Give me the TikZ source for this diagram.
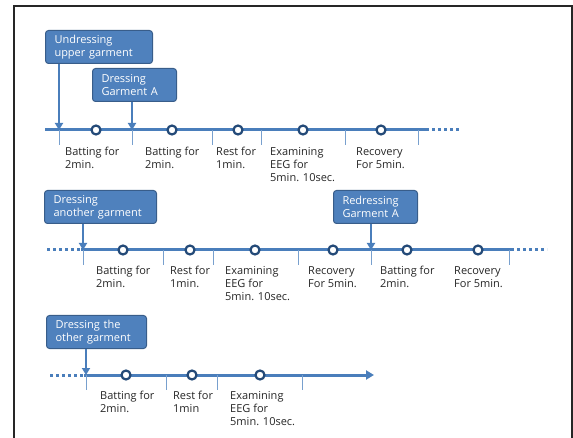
\documentclass[tikz,border=0pt]{standalone}
\usepackage{fontspec}
\setmainfont{Open Sans}
\usetikzlibrary{arrows.meta}
\definecolor{lineBlue}{RGB}{74,126,187}
\definecolor{ringBlue}{RGB}{36,74,120}
\definecolor{boxBlue}{RGB}{79,129,189}
\definecolor{boxEdge}{RGB}{56,93,138}
\definecolor{tickBlue}{RGB}{120,160,206}
\definecolor{labelGray}{RGB}{38,38,38}
\tikzset{
  timeline/.style={lineBlue, line width=3pt},
  dots/.style={lineBlue, line width=3pt, dash pattern=on 3pt off 3pt},
  tick/.style={tickBlue, line width=1pt},
  stop/.style={circle, draw=ringBlue, fill=white, line width=2.2pt, minimum size=9pt, inner sep=0pt},
  event/.style={rectangle, rounded corners=3pt, draw=boxEdge, fill=boxBlue, line width=1pt,
    text=white, align=left, inner xsep=9pt, inner ysep=4pt, minimum height=33pt,
    font=\fontsize{11}{13}\selectfont},
  event arrow/.style={lineBlue, line width=2pt, -{Triangle[width=8pt,length=7pt]}},
  label text/.style={text=labelGray, align=left, inner sep=0pt, font=\fontsize{11}{13}\selectfont},
  frame/.style={black!85, line width=2pt}
}
\newcommand{\drawTick}[3]{
  \coordinate (#1) at (#2,#3);
  \coordinate (#1Low) at (#2,#3+15);
  \draw[tick] (#1) -- (#1Low);
}
\newcommand{\drawStop}[3]{\node[stop] (#1) at (#2,#3) {};}
\newcommand{\drawLabel}[4]{\node[label text, anchor=north west] (#1) at (#2,#3) {#4};}
\newcommand{\drawEvent}[6]{
  \node[event, text width=#4, anchor=north west] (#1) at (#2,#3) {#5};
  \draw[event arrow] (#1.south -| #6) -- (#6);
}

\begin{document}
\begin{tikzpicture}[x=1pt, y=-1pt]
  \useasboundingbox (0,0) rectangle (573,438);
  \draw[frame] (14,440) -- (14,6) -- (572,6) -- (572,440);

  % First row
  \coordinate (r1Start) at (45,130);
  \coordinate (r1End) at (426,130);
  \coordinate (r1Dots) at (462,130);
  \draw[timeline] (r1Start) -- (r1End);
  \draw[dots] (r1End) -- (r1Dots);
  \drawTick{t11}{59}{130}
  \drawTick{t12}{132}{130}
  \drawTick{t13}{212}{130}
  \drawTick{t14}{261}{130}
  \drawTick{t15}{345}{130}
  \drawTick{t16}{418}{130}
  \drawStop{s11}{96}{130}
  \drawStop{s12}{172}{130}
  \drawStop{s13}{238}{130}
  \drawStop{s14}{303}{130}
  \drawStop{s15}{381}{130}
  \drawLabel{l11}{65}{147}{Batting for\\2min.}
  \drawLabel{l12}{145}{147}{Batting for\\2min.}
  \drawLabel{l13}{216}{147}{Rest for\\1min.}
  \drawLabel{l14}{270}{147}{Examining\\EEG for\\5min. 10sec.}
  \drawLabel{l15}{356}{147}{Recovery\\For 5min.}
  \drawEvent{e11}{45}{30}{89pt}{Undressing\\upper garment}{t11}
  \drawEvent{e12}{92}{68}{66pt}{Dressing\\Garment A}{t12}

  % Second row
  \coordinate (r2Dots) at (47,250);
  \coordinate (r2Start) at (81,250);
  \coordinate (r2End) at (511,250);
  \coordinate (r2More) at (547,250);
  \draw[dots] (r2Dots) -- (r2Start);
  \draw[timeline] (r2Start) -- (r2End);
  \draw[dots] (r2End) -- (r2More);
  \drawTick{t21}{83}{250}
  \drawTick{t22}{163}{250}
  \drawTick{t23}{213}{250}
  \drawTick{t24}{298}{250}
  \drawTick{t25}{371}{250}
  \drawTick{t26}{509}{250}
  \drawStop{s21}{123}{250}
  \drawStop{s22}{190}{250}
  \drawStop{s23}{255}{250}
  \drawStop{s24}{333}{250}
  \drawStop{s25}{407}{250}
  \drawStop{s26}{478}{250}
  \drawLabel{l21}{96}{266}{Batting for\\2min.}
  \drawLabel{l22}{170}{266}{Rest for\\1min.}
  \drawLabel{l23}{225}{266}{Examining\\EEG for\\5min. 10sec.}
  \drawLabel{l24}{308}{266}{Recovery\\For 5min.}
  \drawLabel{l25}{380}{266}{Batting for\\2min.}
  \drawLabel{l26}{454}{266}{Recovery\\For 5min.}
  \drawEvent{e21}{44}{190}{94pt}{Dressing\\another garment}{t21}
  \drawEvent{e22}{333}{190}{66pt}{Redressing\\Garment A}{t25}

  % Third row
  \coordinate (r3Dots) at (50,375);
  \coordinate (r3Start) at (84,375);
  \coordinate (r3End) at (374,375);
  \draw[dots] (r3Dots) -- (r3Start);
  \draw[timeline, -{Triangle[width=9pt,length=8pt]}] (r3Start) -- (r3End);
  \drawTick{t31}{86}{375}
  \drawTick{t32}{166}{375}
  \drawTick{t33}{217}{375}
  \drawTick{t34}{302}{375}
  \drawStop{s31}{126}{375}
  \drawStop{s32}{192}{375}
  \drawStop{s33}{260}{375}
  \drawLabel{l31}{100}{391}{Batting for\\2min.}
  \drawLabel{l32}{173}{391}{Rest for\\1min}
  \drawLabel{l33}{230}{391}{Examining\\EEG for\\5min. 10sec.}
  \drawEvent{e31}{46}{315}{82pt}{Dressing the\\other garment}{t31}
\end{tikzpicture}
\end{document}
